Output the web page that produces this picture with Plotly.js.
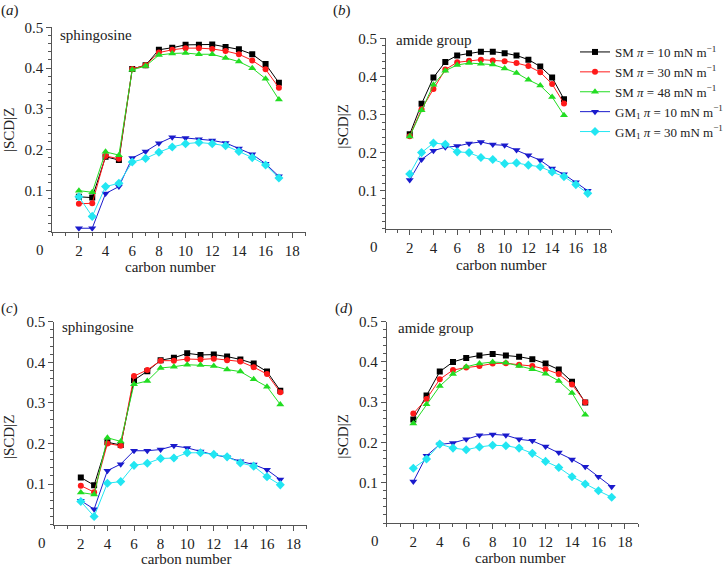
<!DOCTYPE html>
<html>
<head>
<meta charset="utf-8">
<script src="https://cdn.plot.ly/plotly-3.0.1.min.js"></script>
<style>html,body{margin:0;padding:0;background:#fff;}#chart{width:728px;height:567px;}</style>
</head>
<body>
<div id="chart"></div>
<script>
// carbon numbers
const carbonFull = [2,3,4,5,6,7,8,9,10,11,12,13,14,15,16,17];
const carbonAmideSM = [2,3,4,5,6,7,8,9,10,11,12,13,14,15];

// series names
const seriesNames = [
  'SM <i>π</i> = 10 mN m<sup>−1</sup>',
  'SM <i>π</i> = 30 mN m<sup>−1</sup>',
  'SM <i>π</i> = 48 mN m<sup>−1</sup>',
  'GM<sub>1</sub> <i>π</i> = 10 mN m<sup>−1</sup>',
  'GM<sub>1</sub> <i>π</i> = 30 mN m<sup>−1</sup>'
];

// (a) sphingosine
const a_SM10 = [0.085,0.083,0.183,0.175,0.398,0.407,0.445,0.450,0.457,0.457,0.458,0.452,0.446,0.434,0.410,0.364];
const a_SM30 = [0.068,0.069,0.185,0.178,0.398,0.407,0.438,0.445,0.449,0.449,0.447,0.442,0.434,0.419,0.397,0.352];
const a_SM48 = [0.100,0.096,0.195,0.187,0.396,0.405,0.432,0.436,0.437,0.434,0.434,0.425,0.416,0.400,0.374,0.323];
const a_GM10 = [0.008,0.008,0.093,0.110,0.180,0.196,0.216,0.231,0.229,0.226,0.223,0.217,0.203,0.189,0.166,0.135];
const a_GM30 = [0.085,0.037,0.110,0.118,0.170,0.179,0.194,0.207,0.215,0.218,0.215,0.210,0.196,0.181,0.163,0.131];

// (b) amide group
const b_SM10 = [0.248,0.328,0.397,0.438,0.455,0.461,0.465,0.465,0.461,0.455,0.444,0.426,0.397,0.340];
const b_SM30 = [0.243,0.314,0.367,0.418,0.437,0.441,0.444,0.442,0.440,0.435,0.427,0.411,0.380,0.329];
const b_SM48 = [0.242,0.311,0.378,0.415,0.430,0.435,0.433,0.431,0.421,0.409,0.391,0.376,0.346,0.298];
const b_GM10 = [0.128,0.182,0.205,0.214,0.217,0.224,0.228,0.221,0.219,0.207,0.193,0.180,0.158,0.143,0.122,0.100];
const b_GM30 = [0.144,0.200,0.225,0.222,0.202,0.200,0.187,0.182,0.171,0.173,0.167,0.163,0.149,0.137,0.116,0.093];

// (c) sphingosine
const c_SM10 = [0.116,0.097,0.203,0.196,0.356,0.378,0.405,0.411,0.422,0.418,0.419,0.414,0.407,0.397,0.377,0.330];
const c_SM30 = [0.096,0.080,0.200,0.194,0.366,0.381,0.404,0.404,0.408,0.407,0.409,0.405,0.402,0.388,0.371,0.326];
const c_SM48 = [0.079,0.074,0.214,0.205,0.346,0.354,0.386,0.389,0.394,0.393,0.391,0.382,0.377,0.358,0.340,0.296];
const c_GM10 = [0.059,0.038,0.133,0.149,0.182,0.182,0.185,0.194,0.189,0.180,0.172,0.166,0.156,0.148,0.135,0.111];
const c_GM30 = [0.057,0.020,0.102,0.106,0.146,0.151,0.163,0.164,0.177,0.177,0.173,0.167,0.152,0.144,0.118,0.098];

// (d) amide group
const d_SM10 = [0.257,0.317,0.376,0.400,0.410,0.416,0.420,0.416,0.413,0.407,0.396,0.381,0.351,0.299];
const d_SM30 = [0.272,0.308,0.357,0.380,0.386,0.390,0.396,0.397,0.393,0.390,0.382,0.370,0.344,0.300];
const d_SM48 = [0.247,0.295,0.340,0.370,0.388,0.396,0.400,0.398,0.390,0.382,0.371,0.353,0.323,0.269];
const d_GM10 = [0.103,0.167,0.195,0.199,0.208,0.218,0.220,0.218,0.208,0.204,0.190,0.175,0.158,0.140,0.115,0.090];
const d_GM30 = [0.136,0.159,0.196,0.186,0.182,0.189,0.193,0.192,0.186,0.173,0.153,0.138,0.115,0.097,0.080,0.064];

const xTickVals = [2,4,6,8,10,12,14,16,18];
const yTickVals = [0.1,0.2,0.3,0.4,0.5];
const panelLabels = ['a','b','c','d'];
const groupLabels = ['sphingosine','amide group','sphingosine','amide group'];
const xTitle = 'carbon number';
const yTitle = '|SCD|Z';

const colors = ['#000000','#ff1a1a','#22dd22','#1a1acc','#22e6f2'];
const symbols = ['square','circle','triangle-up','triangle-down','diamond'];
const msizes = [6,6,7,7,7];

const W = 728, H = 567;
const px = x => x / W;
const py = y => 1 - y / H;
const FONT = '"Liberation Serif", "Times New Roman", Times, serif';

const panels = [
  {data:[a_SM10,a_SM30,a_SM48,a_GM10,a_GM30], smx:carbonFull, box:[52.3,306,27.3,231.5]},
  {data:[b_SM10,b_SM30,b_SM48,b_GM10,b_GM30], smx:carbonAmideSM, box:[386.5,612.3,38.3,228.8]},
  {data:[c_SM10,c_SM30,c_SM48,c_GM10,c_GM30], smx:carbonFull, box:[54.3,307.3,321.7,524.6]},
  {data:[d_SM10,d_SM30,d_SM48,d_GM10,d_GM30], smx:carbonAmideSM, box:[387.4,639,321.7,523]}
];

const traces = [];
const layout = {
  width: W, height: H,
  margin: {l:0, r:0, t:0, b:0},
  paper_bgcolor: '#fff', plot_bgcolor: '#fff',
  font: {family: FONT, size: 13, color: '#222'},
  showlegend: true,
  legend: {x: px(576), y: py(37), xanchor: 'left', yanchor: 'top',
           font: {family: FONT, size: 13, color: '#222'}, bgcolor: 'rgba(0,0,0,0)',
           tracegroupgap: 0, itemwidth: 30},
  annotations: []
};

panels.forEach((p, i) => {
  const k = i === 0 ? '' : String(i + 1);
  p.data.forEach((ys, j) => {
    const xs = j < 3 ? p.smx : carbonFull;
    traces.push({
      x: xs, y: ys, type: 'scatter', mode: 'lines+markers',
      xaxis: 'x' + k, yaxis: 'y' + k,
      name: seriesNames[j], legendgroup: 's' + j, showlegend: i === 0,
      line: {color: colors[j], width: 1},
      marker: {color: colors[j], symbol: symbols[j], size: msizes[j]}
    });
  });
  const [x0, x1, y0, y1] = p.box;
  layout['xaxis' + k] = {
    domain: [px(x0), px(x1)], range: [0, 19], anchor: 'y' + k,
    showline: true, linecolor: '#555', linewidth: 1, showgrid: false, zeroline: false,
    tickmode: 'array', tickvals: xTickVals, ticks: 'outside', ticklen: 5, tickcolor: '#555',
    tickfont: {family: FONT, size: 15, color: '#222'},
    minor: {dtick: 1, tick0: 0, ticks: 'outside', ticklen: 3, tickcolor: '#555', showgrid: false}
  };
  layout['yaxis' + k] = {
    domain: [py(y1), py(y0)], range: [0, 0.5], anchor: 'x' + k,
    showline: true, linecolor: '#555', linewidth: 1, showgrid: false, zeroline: false,
    tickmode: 'array', tickvals: yTickVals, ticktext: yTickVals.map(v => v.toFixed(1)),
    ticks: 'outside', ticklen: 5, tickcolor: '#555',
    tickfont: {family: FONT, size: 15, color: '#222'},
    minor: {dtick: 0.02, tick0: 0, ticks: 'outside', ticklen: 3, tickcolor: '#555', showgrid: false}
  };
  // origin "0" label
  layout.annotations.push({xref: 'x' + k, yref: 'y' + k, x: 0, y: 0, text: '0', showarrow: false,
    xanchor: 'center', yanchor: 'top', xshift: -12, yshift: -8, font: {family: FONT, size: 15, color: '#222'}});
});

const panelLabelPos = [[10,10],[342,10],[10,308],[344,308]];
const groupLabelPos = [[58,35],[395,40],[60,327],[397,328]];
const xTitlePos = [[170,267],[502,265],[186,559],[521,558]];
const yTitlePos = [[9,130],[343,127],[9,437],[343,437]];

panelLabels.forEach((l, i) => {
  layout.annotations.push({xref:'paper', yref:'paper', x: px(panelLabelPos[i][0]), y: py(panelLabelPos[i][1]),
    text: '(<i>' + l + '</i>)', showarrow: false, xanchor: 'center', yanchor: 'middle',
    font: {family: FONT, size: 15, color: '#222'}});
  layout.annotations.push({xref:'paper', yref:'paper', x: px(groupLabelPos[i][0]), y: py(groupLabelPos[i][1]),
    text: groupLabels[i], showarrow: false, xanchor: 'left', yanchor: 'middle',
    font: {family: FONT, size: 15, color: '#222'}});
  layout.annotations.push({xref:'paper', yref:'paper', x: px(xTitlePos[i][0]), y: py(xTitlePos[i][1]),
    text: xTitle, showarrow: false, xanchor: 'center', yanchor: 'middle',
    font: {family: FONT, size: 15, color: '#222'}});
  layout.annotations.push({xref:'paper', yref:'paper', x: px(yTitlePos[i][0]), y: py(yTitlePos[i][1]),
    text: yTitle, showarrow: false, xanchor: 'center', yanchor: 'middle', textangle: -90,
    font: {family: FONT, size: 15, color: '#222'}});
});

Plotly.newPlot('chart', traces, layout, {displayModeBar: false, staticPlot: true});
</script>
</body>
</html>
